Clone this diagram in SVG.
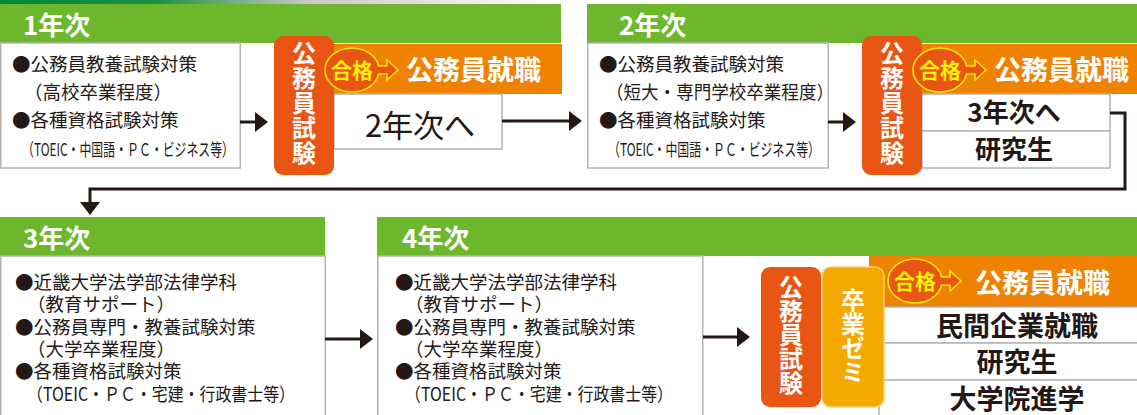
<svg xmlns="http://www.w3.org/2000/svg" width="1137" height="415" viewBox="0 0 1137 415">
<style>
.t{font-family:"Noto Sans CJK JP","Noto Sans",sans-serif;fill:#231815}
.body{font-size:18.5px}
.small{font-size:17.5px}
.yr{font-size:26px;font-weight:bold;fill:#fff}
.vt{font-size:24px;font-weight:bold;fill:#fff;writing-mode:vertical-rl;text-orientation:upright}
.job{font-size:27px;font-weight:bold;fill:#fff}
.pass{font-size:21px;font-weight:bold;fill:#fff100;text-anchor:middle}
.row{font-size:26px;font-weight:bold;text-anchor:middle}
.box{fill:#fff;stroke:#b4b4b4;stroke-width:1.5}
.green{fill:#6db72c}
.banner{fill:#ef8200}
.exam{fill:#e95513}
.zemi{fill:#f5a800;stroke:#fbcf6e;stroke-width:1.5}
.conn{fill:none;stroke:#231815;stroke-width:3;marker-end:url(#ah)}
</style>
<defs>
<linearGradient id="topline" x1="0" y1="0" x2="1" y2="0">
<stop offset="0" stop-color="#00843d"/>
<stop offset="0.28" stop-color="#1f9140"/>
<stop offset="0.55" stop-color="#c8c8c8"/>
<stop offset="1" stop-color="#ffffff"/>
</linearGradient>
<marker id="ah" markerUnits="userSpaceOnUse" markerWidth="14" markerHeight="20" refX="8" refY="10" orient="auto">
<path d="M0,0 L13,10 L0,20 Z" fill="#231815"/>
</marker>
<g id="passShape">
<path d="M14,-4 H35 V-10 L46,0 L35,10 V4 H14 Z" fill="#e95513" stroke="#ffe600" stroke-width="1.6"/>
<ellipse cx="0" cy="0" rx="27" ry="22" fill="#e95513" stroke="#ffe600" stroke-width="1.6"/>
<rect x="20" y="-3.2" width="12" height="6.4" fill="#e95513"/>
</g>
</defs>

<rect x="0" y="0" width="560" height="4" fill="url(#topline)"/>

<!-- Year 1 -->
<g id="year1">
<rect class="green" x="0" y="4" width="561" height="39"/>
<text class="t yr" x="23" y="35">1年次</text>
<rect class="box" x="0.75" y="43" width="239.5" height="125"/>
<text class="t body" x="12" y="71">●公務員教養試験対策</text>
<text class="t body" x="24" y="99">（高校卒業程度）</text>
<text class="t body" x="12" y="127">●各種資格試験対策</text>
<text class="t small" x="22" y="156" textLength="212" lengthAdjust="spacingAndGlyphs">（TOEIC・中国語・ＰＣ・ビジネス等）</text>
</g>

<g id="exam1">
<rect class="banner" x="330" y="44" width="232" height="50"/>
<rect class="box" x="334" y="94" width="168" height="55"/>
<text class="t" x="420" y="137" style="font-size:31px" text-anchor="middle">2年次へ</text>
<rect class="exam" x="274" y="36" width="60" height="139" rx="9"/>
<text class="t vt" x="304" y="41" letter-spacing="1">公務員試験</text>
<use href="#passShape" x="352" y="70"/>
<text class="t pass" x="352" y="77.5">合格</text>
<text class="t job" x="406" y="80">公務員就職</text>
</g>

<!-- Year 2 -->
<g id="year2">
<rect class="green" x="587" y="4" width="550" height="39"/>
<text class="t yr" x="619" y="35">2年次</text>
<rect class="box" x="587.75" y="43" width="240.5" height="125"/>
<text class="t body" x="599" y="71">●公務員教養試験対策</text>
<text class="t body" x="606" y="99" textLength="228" lengthAdjust="spacingAndGlyphs">（短大・専門学校卒業程度）</text>
<text class="t body" x="599" y="127">●各種資格試験対策</text>
<text class="t small" x="608" y="156" textLength="212" lengthAdjust="spacingAndGlyphs">（TOEIC・中国語・ＰＣ・ビジネス等）</text>
</g>

<g id="exam2">
<rect class="banner" x="918" y="44" width="219" height="50"/>
<rect class="box" x="922" y="94" width="188" height="37"/>
<rect class="box" x="922" y="131" width="188" height="37"/>
<text class="t row" x="1014" y="122">3年次へ</text>
<text class="t row" x="1014" y="159">研究生</text>
<rect class="exam" x="862" y="36" width="60" height="139" rx="9"/>
<text class="t vt" x="892" y="41" letter-spacing="1">公務員試験</text>
<use href="#passShape" x="940" y="70"/>
<text class="t pass" x="940" y="77.5">合格</text>
<text class="t job" x="994" y="80">公務員就職</text>
</g>

<!-- Year 3 -->
<g id="year3">
<rect class="green" x="0" y="217" width="325" height="39"/>
<text class="t yr" x="23" y="248">3年次</text>
<rect class="box" x="0.75" y="256" width="324.5" height="170"/>
<text class="t body" x="15" y="289">●近畿大学法学部法律学科</text>
<text class="t body" x="27" y="311">（教育サポート）</text>
<text class="t body" x="15" y="334">●公務員専門・教養試験対策</text>
<text class="t body" x="27" y="356">（大学卒業程度）</text>
<text class="t body" x="15" y="378">●各種資格試験対策</text>
<text class="t body" x="27" y="401" textLength="268" lengthAdjust="spacingAndGlyphs">（TOEIC・ＰＣ・宅建・行政書士等）</text>
</g>

<!-- Year 4 -->
<g id="year4">
<rect class="green" x="377" y="217" width="760" height="39"/>
<text class="t yr" x="402" y="248">4年次</text>
<rect class="box" x="377.75" y="256" width="325" height="170"/>
<text class="t body" x="395" y="289">●近畿大学法学部法律学科</text>
<text class="t body" x="405" y="311">（教育サポート）</text>
<text class="t body" x="395" y="334">●公務員専門・教養試験対策</text>
<text class="t body" x="405" y="356">（大学卒業程度）</text>
<text class="t body" x="395" y="378">●各種資格試験対策</text>
<text class="t body" x="405" y="401" textLength="268" lengthAdjust="spacingAndGlyphs">（TOEIC・ＰＣ・宅建・行政書士等）</text>
</g>

<g id="exam3">
<rect class="banner" x="869" y="256" width="268" height="51"/>
<rect class="box" x="879" y="307" width="260" height="36"/>
<rect class="box" x="879" y="343" width="260" height="37"/>
<rect class="box" x="879" y="380" width="260" height="40"/>
<text class="t row" x="1017" y="336" style="font-size:27px">民間企業就職</text>
<text class="t row" x="1017" y="372" style="font-size:27px">研究生</text>
<text class="t row" x="1017" y="409" style="font-size:27px">大学院進学</text>
<rect class="exam" x="761" y="267" width="60" height="140" rx="9"/>
<text class="t vt" x="791" y="275">公務員試験</text>
<rect class="zemi" x="822" y="267" width="62" height="140" rx="9"/>
<text class="t vt" x="853" y="288">卒業ゼミ</text>
<use href="#passShape" x="915" y="281"/>
<text class="t pass" x="915" y="288.5">合格</text>
<text class="t job" x="975" y="293">公務員就職</text>
</g>

<g id="connectors">
<path class="conn" d="M240,122 H263"/>
<path class="conn" d="M502,121 H577"/>
<path class="conn" d="M828,122 H851"/>
<path class="conn" d="M1110,113 H1125 V189 H90 V210"/>
<path class="conn" d="M325,339 H368"/>
<path class="conn" d="M703,337 H745"/>
</g>
</svg>
